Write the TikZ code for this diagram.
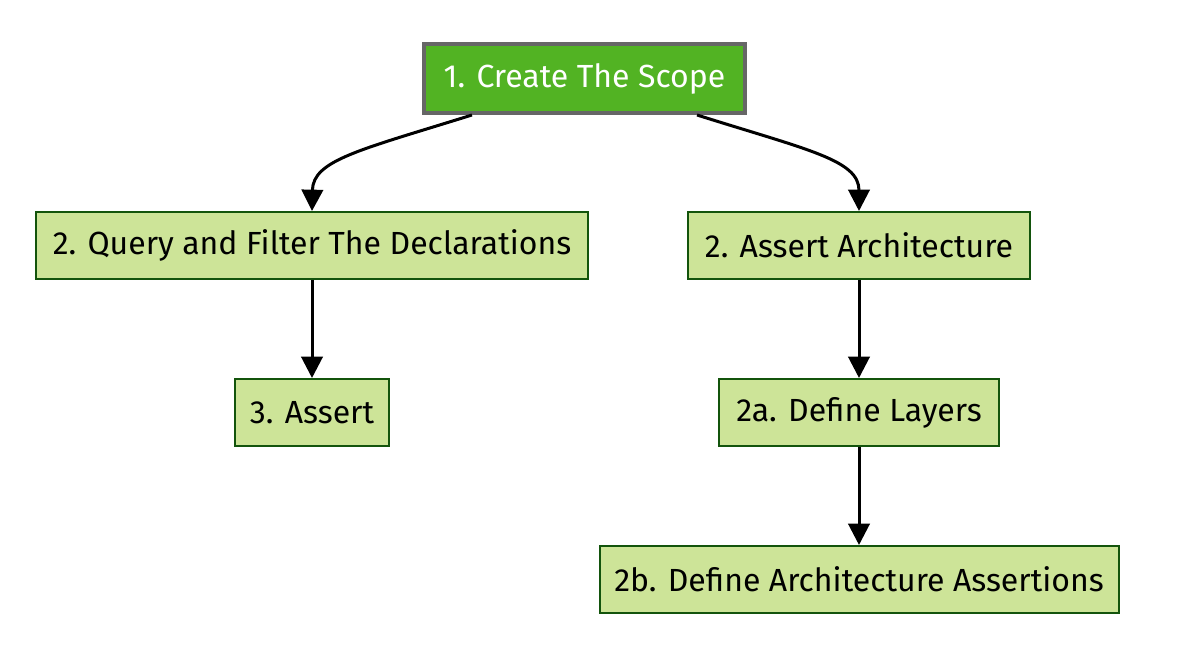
\documentclass[tikz,border=0pt]{standalone}
\usepackage{fontspec}
\setmainfont{Fira Sans}
\usetikzlibrary{arrows.meta}
\definecolor{topgreen}{RGB}{82,179,35}
\definecolor{topborder}{RGB}{102,102,102}
\definecolor{boxfill}{RGB}{205,228,152}
\definecolor{boxborder}{RGB}{19,84,12}
\begin{document}
\begin{tikzpicture}[x=0.75pt,y=-0.75pt,
  stepbox/.style={draw=boxborder,fill=boxfill,line width=1.5pt,minimum height=50.25pt,inner sep=0pt,font=\fontsize{24}{28}\selectfont},
  startbox/.style={draw=topborder,fill=topgreen,line width=3pt,text=white,minimum height=51.75pt,minimum width=240.75pt,inner sep=0pt,font=\fontsize{24}{28}\selectfont},
  link/.style={line width=2.25pt,-{Triangle[length=16pt,width=16pt]}}]
\useasboundingbox (0,0) rectangle (1182,652);
\node[startbox] (scope) at (584.5,78.5) {1. Create The Scope};
\node[stepbox,minimum width=414pt] (query) at (312,245.5) {2. Query and Filter The Declarations};
\node[stepbox,minimum width=256.5pt] (arch) at (859,245.5) {2. Assert Architecture};
\node[stepbox,minimum width=115.5pt] (assert) at (312,412.5) {3. Assert};
\node[stepbox,minimum width=210pt] (layers) at (859,412.5) {2a. Define Layers};
\node[stepbox,minimum width=389.25pt] (rules) at (859,579.5) {2b. Define Architecture Assertions};
% links
\draw[link] ([xshift=-84.4pt]scope.south) .. controls (360,150) and (313,160) .. (query.north);
\draw[link] ([xshift=84.4pt]scope.south) .. controls (808,150) and (859,160) .. (arch.north);
\draw[link] (query) -- (assert);
\draw[link] (arch) -- (layers);
\draw[link] (layers) -- (rules);
\end{tikzpicture}
\end{document}
